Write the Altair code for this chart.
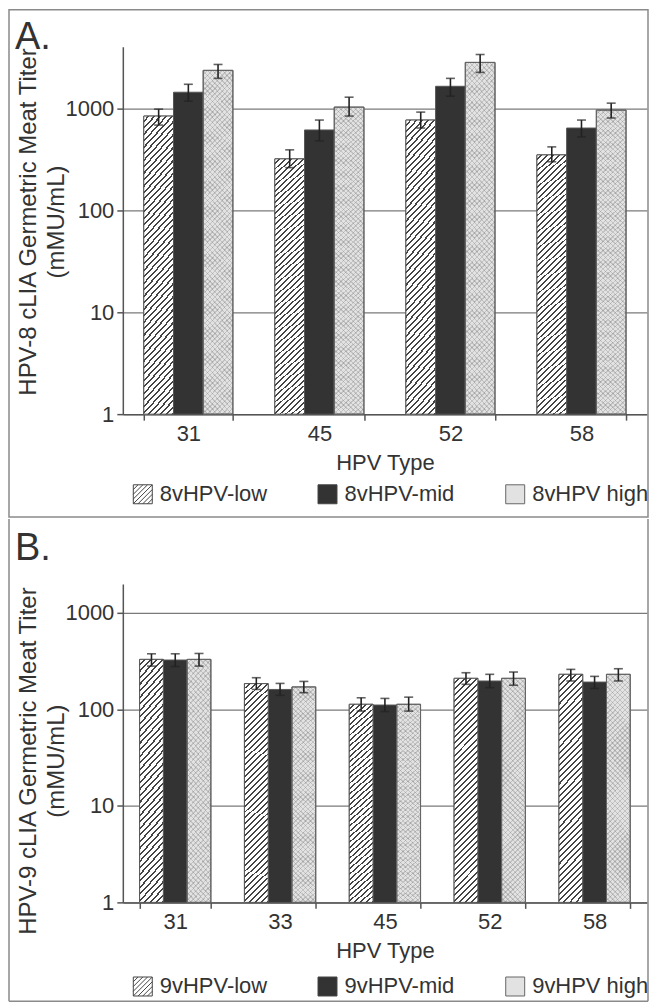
import altair as alt
import pandas as pd

FONT = "Liberation Sans"
TXT = "#333333"

# ---------------- Panel A data (8vHPV) ----------------
types8 = ["31", "45", "52", "58"]
series8 = ["8vHPV-low", "8vHPV-mid", "8vHPV high"]
low8 = [836, 318, 764, 348]
low8_lo = [682, 261, 638, 298]
low8_hi = [978, 390, 914, 417]
mid8 = [1432, 611, 1637, 638]
mid8_lo = [1170, 477, 1309, 522]
mid8_hi = [1713, 764, 1958, 764]
high8 = [2345, 1023, 2806, 957]
high8_lo = [1958, 836, 2240, 800]
high8_hi = [2680, 1280, 3355, 1119]

# ---------------- Panel B data (9vHPV) ----------------
types9 = ["31", "33", "45", "52", "58"]
series9 = ["9vHPV-low", "9vHPV-mid", "9vHPV high"]
low9 = [330, 185, 113, 210, 231]
low9_lo = [281, 161, 96, 182, 197]
low9_hi = [377, 213, 132, 240, 260]
mid9 = [325, 161, 111, 197, 192]
mid9_lo = [278, 140, 95, 168, 165]
mid9_hi = [377, 186, 130, 231, 220]
high9 = [330, 171, 113, 210, 231]
high9_lo = [281, 149, 96, 178, 197]
high9_hi = [380, 195, 134, 244, 264]

FILLS = ["#ffffff", "#333333", "#e2e2e2"]
STROKES = ["#444444", "#444444", "#666666"]
BORDER = "#8a8a8a"


def stripes(n, k, line, bg, frac, mirrored=False):
    a = (1 + k) / (1 + k * k)
    stops = []
    for i in range(n):
        s = i / n
        m = (i + 1 - frac) / n
        e = (i + 1) / n
        stops += [
            {"offset": s, "color": bg},
            {"offset": m, "color": bg},
            {"offset": m, "color": line},
            {"offset": e, "color": line},
        ]
    if mirrored:
        return {"gradient": "linear", "x1": 0, "y1": 1, "x2": a, "y2": 1 - k * a, "stops": stops}
    return {"gradient": "linear", "x1": 0, "y1": 0, "x2": a, "y2": k * a, "stops": stops}


def hatch_path():
    parts = ["M-1,-1H1V1H-1Z"]
    for c in [-1.5, -1.0, -0.5, 0.0, 0.5, 1.0, 1.5]:
        if c <= 0:
            parts.append(f"M-1,{c + 1}L{c + 1},-1")
        else:
            parts.append(f"M{c - 1},1L1,{c - 1}")
    return "".join(parts)


HATCH = hatch_path()


def panel(types, series, vals, los, his, ymax, width, height, letter, ytitle,
          title_y, legend_y, border_top, border_bottom, letter_y,
          hatch_n, hatch_k, dot_n, dot_k, full_border):
    rows = []
    for s, v, lo, hi in zip(series, vals, los, his):
        for t, a, b, c in zip(types, v, lo, hi):
            rows.append({"type": t, "series": s, "value": a, "lo": b, "hi": c})
    df = pd.DataFrame(rows)

    xscale = alt.Scale(paddingInner=0.32, paddingOuter=0.16)
    xaxis = alt.Axis(
        title="HPV Type", labelAngle=0, tickBand="extent", tickSize=6,
        tickColor="#555555", tickWidth=1.5, domainColor="#555555", domainWidth=1.5,
        grid=False, labelFont=FONT, labelFontSize=22, labelColor=TXT, labelPadding=3,
        titleFont=FONT, titleFontSize=22, titleFontWeight="normal", titleColor=TXT,
        titlePadding=8,
    )
    yscale = alt.Scale(type="log", domain=[1, ymax], nice=False)
    yaxis = alt.Axis(
        values=[1, 10, 100, 1000], format="d", grid=True, gridColor="#7a7a7a",
        gridWidth=1.2, tickSize=6, tickColor="#555555", tickWidth=1.5,
        domainColor="#555555", domainWidth=1.5, labelFont=FONT, labelFontSize=22,
        labelColor=TXT, labelPadding=3, title=ytitle, titleFont=FONT,
        titleFontSize=24, titleFontWeight="normal", titleColor=TXT, titlePadding=-4,
        titleLineHeight=29, titleY=title_y,
    )
    xo = alt.XOffset("series:N", sort=series, scale=alt.Scale(domain=series))
    X = alt.X("type:N", sort=types, scale=xscale, axis=xaxis)

    def Y(field):
        return alt.Y(field, scale=yscale, axis=yaxis)

    legend = alt.Legend(
        title=None, orient="none", legendX=9, legendY=legend_y,
        direction="horizontal", symbolSize=361, symbolOpacity=1,
        labelFont=FONT, labelFontSize=22, labelColor=TXT, labelOffset=6,
        columnPadding=48, padding=0, symbolStrokeWidth=1,
    )
    fill_enc = alt.Fill("series:N", sort=series,
                        scale=alt.Scale(domain=series, range=FILLS), legend=legend)

    base = alt.Chart(df)
    one = alt.Chart(pd.DataFrame({"k": [0]}))

    layers = []
    if full_border:
        layers.append(one.mark_rect(filled=False, stroke=BORDER, strokeWidth=1.5).encode(
            x=alt.value(-114), x2=alt.value(width + 1),
            y=alt.value(border_top), y2=alt.value(border_bottom),
        ))
    else:
        layers.append(one.mark_rule(stroke=BORDER, strokeWidth=1.5).encode(
            x=alt.value(-114), y=alt.value(border_top), y2=alt.value(border_bottom)))
        layers.append(one.mark_rule(stroke=BORDER, strokeWidth=1.5).encode(
            x=alt.value(width + 1), y=alt.value(border_top), y2=alt.value(border_bottom)))
        layers.append(one.mark_rule(stroke=BORDER, strokeWidth=1.5).encode(
            x=alt.value(-114), x2=alt.value(width + 1), y=alt.value(border_bottom)))

    bars = base.mark_bar(stroke="#555555", strokeWidth=1).encode(
        x=X, xOffset=xo, y=Y("value:Q"), y2=alt.datum(1), fill=fill_enc,
    )

    legend_layer = base.mark_point(filled=True, opacity=0).encode(
        x=X, xOffset=xo, y=Y("value:Q"),
        fill=fill_enc,
        stroke=alt.Stroke("series:N", sort=series,
                          scale=alt.Scale(domain=series, range=STROKES), legend=legend),
        shape=alt.Shape("series:N", sort=series,
                        scale=alt.Scale(domain=series, range=[HATCH, "square", "square"]),
                        legend=legend),
    )

    hatch = base.transform_filter(alt.datum.series == series[0]).mark_bar(
        fill=stripes(hatch_n, hatch_k, "#444444", "#ffffff", 0.33),
        stroke="#555555", strokeWidth=1,
    ).encode(x=X, xOffset=xo, y=Y("value:Q"), y2=alt.datum(1))

    dots_a = base.transform_filter(alt.datum.series == series[2]).mark_bar(
        fill=stripes(dot_n, dot_k, "rgba(50,50,50,0.18)", "rgba(255,255,255,0)", 0.3),
        strokeWidth=0,
    ).encode(x=X, xOffset=xo, y=Y("value:Q"), y2=alt.datum(1))
    dots_b = base.transform_filter(alt.datum.series == series[2]).mark_bar(
        fill=stripes(dot_n, dot_k, "rgba(50,50,50,0.18)", "rgba(255,255,255,0)", 0.3, True),
        stroke="#666666", strokeWidth=1,
    ).encode(x=X, xOffset=xo, y=Y("value:Q"), y2=alt.datum(1))

    err = base.mark_rule(color="#222222", strokeWidth=1.6).encode(
        x=X, xOffset=xo, y=Y("lo:Q"), y2="hi:Q",
    )
    cap_hi = base.mark_tick(color="#222222", thickness=1.6, size=9).encode(
        x=X, xOffset=xo, y=Y("hi:Q"),
    )
    cap_lo = base.mark_tick(color="#222222", thickness=1.6, size=9).encode(
        x=X, xOffset=xo, y=Y("lo:Q"),
    )

    label = one.mark_text(
        text=letter, font=FONT, fontSize=38, color=TXT, align="left",
        baseline="alphabetic",
    ).encode(x=alt.value(-108), y=alt.value(letter_y))

    layers += [bars, legend_layer, hatch, dots_a, dots_b, err, cap_hi, cap_lo, label]
    return alt.layer(*layers).properties(width=width, height=height)


W = 525
top = panel(types8, series8, [low8, mid8, high8], [low8_lo, mid8_lo, high8_lo],
            [low8_hi, mid8_hi, high8_hi], 4000, W, 368, "A.",
            ["HPV-8 cLIA Germetric Meat Titer", "(mMU/mL)"],
            175, 437, -37, 471, 2, 51, 9.2, 72, 10.9, True)
bottom = panel(types9, series9, [low9, mid9, high9], [low9_lo, mid9_lo, high9_lo],
               [low9_hi, mid9_hi, high9_hi], 2000, W, 319, "B.",
               ["HPV-9 cLIA Germetric Meat Titer", "(mMU/mL)"],
               177, 392, -65, 418, -24, 41, 9.4, 50, 9.4, False)

chart = alt.vconcat(top, bottom, spacing=0).resolve_scale(
    fill="independent", shape="independent", stroke="independent",
    x="independent", y="independent", xOffset="independent"
).resolve_legend(
    fill="independent", shape="independent", stroke="independent"
).configure_view(stroke=None).properties(padding=0)

chart.save("out.html", embed_options={"renderer": "svg", "actions": False})
